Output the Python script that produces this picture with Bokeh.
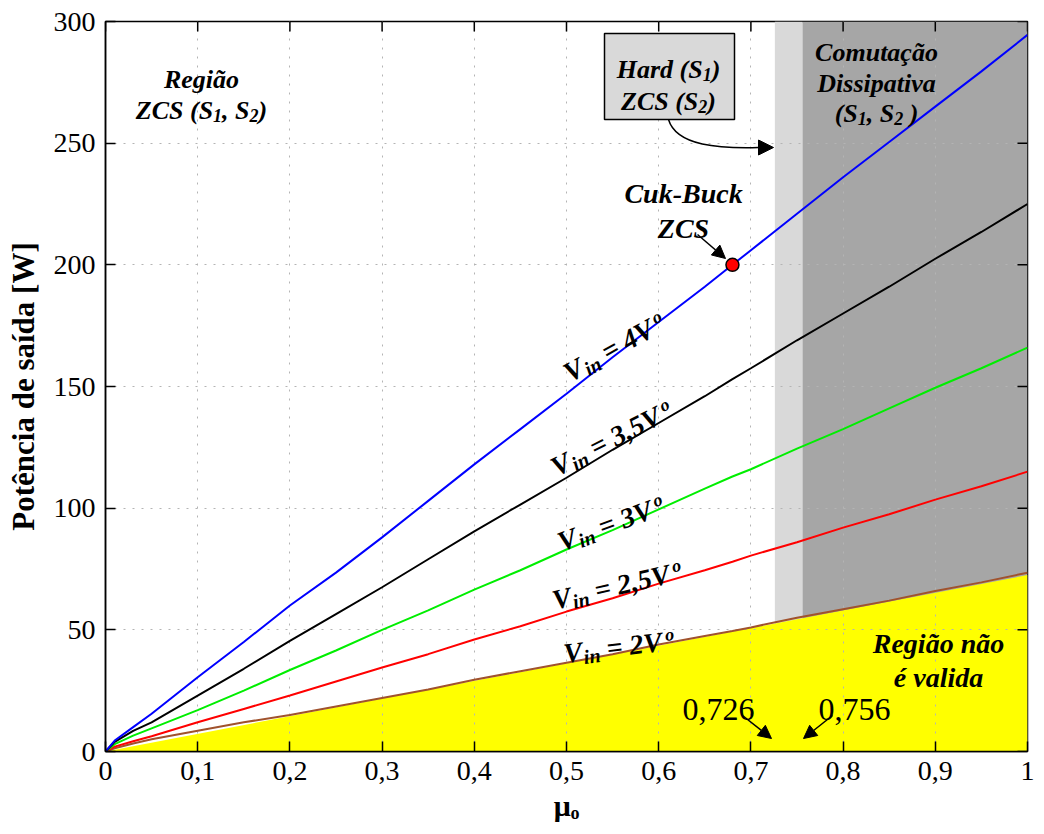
import math
from bokeh.plotting import figure
from bokeh.models import FixedTicker, Range1d, Arrow, NormalHead
from bokeh.core.properties import value
from bokeh.embed import file_html
from bokeh.resources import INLINE

# ---------------- data ----------------
mu = [0.0, 0.01, 0.03, 0.05, 0.10, 0.15, 0.20, 0.25, 0.30, 0.35, 0.40, 0.45,
      0.50, 0.55, 0.60, 0.65, 0.68, 0.70, 0.75, 0.80, 0.85, 0.90, 0.95, 1.00]
p_4vo = [0, 4.5, 10, 15.5, 30.5, 45, 60, 73.5, 88, 103, 118, 132.5,
         147, 162, 176.5, 191, 200, 206, 221, 236, 250.5, 265, 279.5, 294.5]
p_35vo = [0, 4, 8.5, 12, 23, 34, 45.5, 56.5, 67.5, 79, 90.5, 101.5,
          112.5, 124, 135, 146, 153, 157.5, 169, 180, 191, 202.5, 213.5, 225]
p_3vo = [0, 3, 6.5, 9.5, 17, 25, 33.5, 41.5, 50, 58, 66.5, 74.5,
         83, 91, 99.5, 108, 113, 116, 124.5, 132.5, 141, 149.5, 157.5, 166]
p_25vo = [0, 2, 4.2, 6.3, 12, 17.5, 23, 28.8, 34.5, 40, 46, 51.5,
          57.5, 63, 69, 74.5, 78, 80.5, 86, 92, 97.5, 103.5, 109, 115]
p_2vo = [0, 1.3, 3.3, 5, 8.5, 12, 15, 18.5, 22, 25.5, 29.5, 33,
         36.5, 40, 44, 47.5, 49.5, 51, 55, 58.5, 62, 66, 69.5, 73.5]

invalid_mu = [0.0, 1.0]
invalid_top = [0.0, 72.5]
mu_hard_start = 0.726
mu_diss_start = 0.756
mu_end = 1.0
p_max = 300
cuk_mu = [0.68]
cuk_p = [200]

x_ticks = [0, 0.1, 0.2, 0.3, 0.4, 0.5, 0.6, 0.7, 0.8, 0.9, 1]
x_tick_labels = ["0", "0,1", "0,2", "0,3", "0,4", "0,5", "0,6", "0,7", "0,8", "0,9", "1"]
y_ticks = [0, 50, 100, 150, 200, 250, 300]

# ---------------- layout ----------------
FONT = "Liberation Serif"
W, H = 1040, 832
L, R, T, B = 105, 13, 21, 81
FW = W - L - R
FH = H - T - B
TICK = 10


def d(px, py):
    """page pixel -> data coordinates (layout helper for annotations)"""
    return (px - L) / FW, (T + FH - py) / FH * p_max


WID = {'a': .5, 'b': .5, 'c': .444, 'd': .5, 'e': .444, 'g': .5, 'h': .556, 'i': .278,
       'k': .5, 'l': .278, 'm': .778, 'n': .556, 'o': .5, 'p': .5, 'r': .389, 's': .389,
       't': .278, 'u': .556, 'v': .444, 'B': .667, 'C': .667, 'D': .722, 'H': .778,
       'R': .667, 'S': .556, 'V': .667, 'Z': .611, ' ': .25, ',': .25, '(': .333,
       ')': .333, '=': .570, '-': .333, 'ã': .5, 'ç': .444, 'é': .444, 'í': .278}


def tw(s, size):
    return sum(WID.get(ch, 0.5) for ch in s) * size


p = figure(width=W, height=H, x_range=Range1d(0, 1), y_range=Range1d(0, p_max),
           output_backend="svg", toolbar_location=None,
           min_border_left=L, min_border_right=R, min_border_top=T, min_border_bottom=B)
p.background_fill_color = "white"
p.border_fill_color = "white"
p.outline_line_color = "black"
p.outline_line_width = 1.5


def rich(px, py, pieces, angle=0.0, align="left", style="bold italic"):
    total = sum(tw(t, s) + g for t, s, _, g in pieces)
    adv = 0.0 if align == "left" else -total / 2
    th = math.radians(angle)
    for t, s, dy, gap in pieces:
        adv += gap
        stripped = t.lstrip(" ")
        lead = tw(t[:len(t) - len(stripped)], s)
        a = adv + lead
        ox = a * math.cos(th) - dy * math.sin(th)
        oy = a * math.sin(th) + dy * math.cos(th)
        x, y = d(px + ox, py - oy)
        p.text(x=[x], y=[y], text=[stripped], angle=angle, angle_units="deg",
               text_font=value(FONT), text_font_style=style, text_font_size=f"{s}px",
               text_baseline="alphabetic", text_align="left", text_color="black")
        adv += tw(t, s)


def pc(t, s, dy=0, gap=0):
    return (t, s, dy, gap)


# regions
p.quad(left=[mu_hard_start], right=[mu_diss_start], bottom=[0], top=[p_max],
       fill_color="#d9d9d9", line_color=None, level="image")
p.quad(left=[mu_diss_start], right=[mu_end], bottom=[0], top=[p_max],
       fill_color="#a6a6a6", line_color=None, level="image")
p.varea(x=invalid_mu, y1=[0, 0], y2=invalid_top, fill_color="#ffff00", level="image")

# curves
p.line(mu, p_2vo, line_color="#a0522d", line_width=2)
p.line(mu, p_25vo, line_color="#ff0000", line_width=2)
p.line(mu, p_3vo, line_color="#00ee00", line_width=2)
p.line(mu, p_35vo, line_color="#000000", line_width=2)
p.line(mu, p_4vo, line_color="#0000ff", line_width=2)
p.scatter(cuk_mu, cuk_p, size=13, fill_color="#ff0000", line_color="black", line_width=1.5)

# axes
xa = p.below[0]
ya = p.left[0]
for ax, ticks in ((xa, x_ticks), (ya, y_ticks)):
    ax.ticker = FixedTicker(ticks=ticks)
    ax.major_tick_in = TICK
    ax.major_tick_out = 0
    ax.minor_tick_line_color = None
    ax.major_tick_line_color = "black"
    ax.major_tick_line_width = 1.5
    ax.axis_line_color = "black"
    ax.axis_line_width = 1.5
    ax.major_label_text_font = FONT
    ax.major_label_text_font_size = "28px"
    ax.major_label_text_color = "black"
    ax.major_label_standoff = 10
    ax.axis_label_text_font = FONT
    ax.axis_label_text_font_style = "bold"
    ax.axis_label_text_color = "black"
xa.major_label_overrides = {t: l for t, l in zip(x_ticks, x_tick_labels)}
xa.axis_label = "μₒ"
xa.axis_label_text_font_size = "30px"
xa.axis_label_standoff = 6
ya.axis_label = "Potência de saída [W]"
ya.axis_label_text_font_size = "31px"
ya.axis_label_standoff = 10

# inward ticks on top and right frame edges (from the tick arrays)
dy_tick = TICK / FH * p_max
dx_tick = TICK / FW
p.segment(x0=x_ticks, y0=[p_max] * len(x_ticks), x1=x_ticks,
          y1=[p_max - dy_tick] * len(x_ticks), line_color="black", line_width=1.5)
p.segment(x0=[mu_end] * len(y_ticks), y0=y_ticks, x1=[mu_end - dx_tick] * len(y_ticks),
          y1=y_ticks, line_color="black", line_width=1.5)

for g, ticks in ((p.xgrid[0], x_ticks), (p.ygrid[0], y_ticks)):
    g.ticker = FixedTicker(ticks=ticks)
    g.grid_line_color = "#b4b4b4"
    g.grid_line_dash = "2 7"
    g.grid_line_width = 1

# ---------------- annotations ----------------
rich(201, 79, [pc("Região", 26)], align="center")
rich(201, 110, [pc("ZCS (S", 26), pc("1", 18, -5), pc(", S", 26), pc("2", 18, -5), pc(")", 26)],
     align="center")

# hard box
bx0, by0 = d(604, 119)
bx1, by1 = d(734, 33)
p.quad(left=[bx0], right=[bx1], bottom=[by0], top=[by1], fill_color="#d9d9d9",
       line_color="black", line_width=1.5)
rich(668, 69, [pc("Hard (S", 26), pc("1", 18, -5), pc(")", 26)], align="center")
rich(668, 101, [pc("ZCS (S", 26), pc("2", 18, -5), pc(")", 26)], align="center")
sx, sy = d(668, 119)
c1x, c1y = d(676, 146)
c2x, c2y = d(720, 148)
ex, ey = d(758, 147)
tx, ty = d(773, 147)
p.bezier(x0=[sx], y0=[sy], x1=[ex], y1=[ey], cx0=[c1x], cy0=[c1y], cx1=[c2x], cy1=[c2y],
         line_color="black", line_width=1.5)
p.add_layout(Arrow(end=NormalHead(size=15, fill_color="black", line_color="black"),
                   x_start=ex, y_start=ey, x_end=tx, y_end=ty, line_width=1.5))

rich(876, 52, [pc("Comutação", 26)], align="center")
rich(876, 83, [pc("Dissipativa", 26)], align="center")
rich(876, 113, [pc("(S", 26), pc("1", 18, -5), pc(", S", 26), pc("2", 18, -5), pc(" )", 26)],
     align="center")

rich(683, 193, [pc("Cuk-Buck", 28)], align="center")
rich(683, 228, [pc("ZCS", 28)], align="center")
a0x, a0y = d(697, 234)
a1x, a1y = d(725, 258)
p.add_layout(Arrow(end=NormalHead(size=13, fill_color="black", line_color="black"),
                   x_start=a0x, y_start=a0y, x_end=a1x, y_end=a1y, line_width=1.5))


# curve labels
def vin(px, py, k, ang):
    rich(px, py, [pc("V", 28), pc("in", 20, -6, 1), pc(" = " + k, 28), pc("V", 28),
                  pc("o", 18, 6, 4)], angle=ang)


vin(565, 374, "4", 29)
vin(552, 468, "3,5", 27)
vin(558, 542, "3", 20)
vin(552, 600, "2,5", 13)
vin(563, 653, "2", 7)

rich(938, 643, [pc("Região não", 28)], align="center")
rich(938, 677, [pc("é valida", 28)], align="center")

rich(718, 709, [pc("0,726", 32)], align="center", style="normal")
rich(854, 709, [pc("0,756", 32)], align="center", style="normal")
for (x0p, y0p, x1p, y1p) in ((742, 715, 771, 738), (832, 715, 803, 738)):
    ax0, ay0 = d(x0p, y0p)
    ax1, ay1 = d(x1p, y1p)
    p.add_layout(Arrow(end=NormalHead(size=13, fill_color="black", line_color="black"),
                       x_start=ax0, y_start=ay0, x_end=ax1, y_end=ay1, line_width=1.5))

open("out.html", "w").write(file_html(p, INLINE))
